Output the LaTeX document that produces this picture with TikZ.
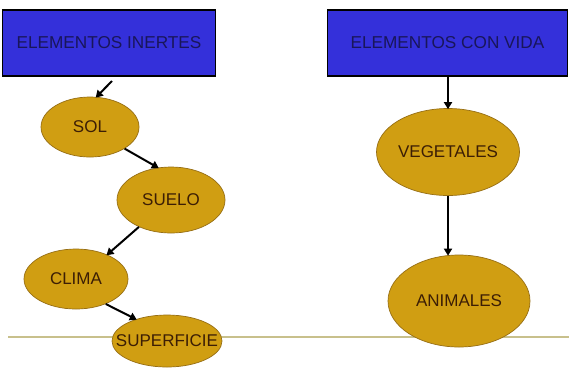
\documentclass[tikz,border=0pt]{standalone}
\usepackage{fontspec}
\setmainfont{Liberation Sans}
\usetikzlibrary{shapes.geometric,arrows.meta}
\definecolor{boxblue}{RGB}{52,48,218}
\definecolor{boxtext}{RGB}{25,22,90}
\definecolor{gold}{RGB}{208,158,18}
\definecolor{goldedge}{RGB}{150,110,20}
\definecolor{elltext}{RGB}{60,30,5}
\definecolor{groundline}{RGB}{200,192,140}
\tikzset{
  titlebox/.style={draw=black, line width=1.8pt, fill=boxblue, text=boxtext, font=\fontsize{17.2}{19}\selectfont, inner sep=0pt, anchor=center},
  blob/.style={ellipse, draw=goldedge, line width=0.7pt, fill=gold, inner sep=0pt, anchor=center,
    label={[text=elltext, font=\fontsize{17}{19}\selectfont, inner sep=0pt]center:#1}},
  link/.style={line width=2pt, black, -{Triangle[length=7pt,width=8pt]}, shorten >=-1pt}
}
\begin{document}
\begin{tikzpicture}[x=1pt,y=-1pt]
\useasboundingbox (0,0) rectangle (569,368);
\fill[white] (0,0) rectangle (569,368);
\coordinate (gl) at (8,337);
\coordinate (gr) at (569,337);
\draw[groundline, line width=2pt] (gl) -- (gr);
\node[titlebox, minimum width=213pt, minimum height=66pt] (inertes) at (109,43) {ELEMENTOS INERTES};
\node[titlebox, minimum width=240pt, minimum height=66pt] (vida) at (447.5,43) {ELEMENTOS CON VIDA};
\node[blob=SOL, minimum width=98pt, minimum height=60pt] (sol) at (90,127) {};
\node[blob=SUELO, minimum width=108pt, minimum height=66pt] (suelo) at (171,200) {};
\node[blob=CLIMA, minimum width=104pt, minimum height=60pt] (clima) at (76,279) {};
\node[blob=SUPERFICIE, minimum width=110pt, minimum height=52pt] (superficie) at (167,341) {};
\node[blob=VEGETALES, minimum width=143pt, minimum height=87pt] (vegetales) at (448,152) {};
\node[blob=ANIMALES, minimum width=142pt, minimum height=92pt] (animales) at (459,301) {};
\coordinate (a1) at (112,81);
\draw[link] (a1) -- (sol.78);
\draw[link] (sol.-32) -- (suelo.112);
\draw[link] (suelo.-140) -- (clima.38);
\draw[link] (clima.-40) -- (superficie.145);
\draw[link] (vida.south -| vegetales.north) -- (vegetales.north);
\draw[link] (vegetales.south) -- (vegetales.south |- animales.north);
\end{tikzpicture}
\end{document}
